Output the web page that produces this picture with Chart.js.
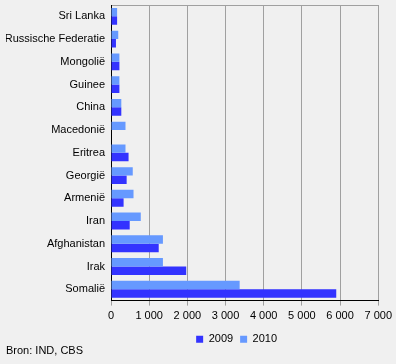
<!DOCTYPE html>
<html>
<head>
<meta charset="utf-8">
<script src="https://cdn.jsdelivr.net/npm/chart.js@4"></script>
<style>
  html, body { margin: 0; padding: 0; background: #f0f0f0; }
  #wrap { width: 396px; height: 364px; position: relative; }
</style>
</head>
<body>
<div id="wrap"><canvas id="chart"></canvas></div>
<script>
const landen = ['Sri Lanka', 'Russische Federatie', 'Mongolië', 'Guinee', 'China', 'Macedonië',
    'Eritrea', 'Georgië', 'Armenië', 'Iran', 'Afghanistan', 'Irak', 'Somalië'];
const jaar2009 = [160, 130, 220, 220, 270, 0, 460, 410, 330, 490, 1250, 1970, 5900];
const jaar2010 = [160, 190, 220, 220, 270, 380, 380, 570, 590, 780, 1360, 1360, 3370];
const xTicks = [0, 1000, 2000, 3000, 4000, 5000, 6000, 7000];

const fmt = v => String(v).replace(/\B(?=(\d{3})+(?!\d))/g, ' ');
const font = { family: 'Liberation Sans, Arial, sans-serif', size: 11 };

Chart.defaults.font = font;
Chart.defaults.color = '#000';

// legend sits a bit left of the plot centre in the original
const legendOverPlot = {
    id: 'legendOverPlot',
    afterLayout(chart) {
        chart.legend.left = chart.chartArea.left - 16;
        chart.legend.right = chart.chartArea.right;
    }
};

new Chart(
    document.getElementById('chart'),
    {
        type: 'bar',
        data: {
            labels: landen,
            datasets: [
                { label: '2010', data: jaar2010, backgroundColor: '#6699ff' },
                { label: '2009', data: jaar2009, backgroundColor: '#3333ff' },
            ]
        },
        options: {
            indexAxis: 'y',
            responsive: true,
            maintainAspectRatio: false,
            animation: false,
            datasets: {
                bar: { categoryPercentage: 0.74, barPercentage: 1.0 }
            },
            layout: { padding: { top: 5, left: 6, right: 10, bottom: 0 } },
            plugins: {
                tooltip: { enabled: false },
                legend: {
                    position: 'bottom',
                    reverse: true,
                    labels: {
                        boxWidth: 7,
                        boxHeight: 7,
                        padding: 7,
                        font: font,
                    }
                },
                title: {
                    display: true,
                    position: 'bottom',
                    align: 'start',
                    text: 'Bron: IND, CBS',
                    font: { ...font, weight: 'normal' },
                    padding: { top: -10, bottom: 6 },
                }
            },
            scales: {
                x: {
                    min: 0,
                    max: 7000,
                    afterBuildTicks: axis => { axis.ticks = xTicks.map(v => ({ value: v })); },
                    grid: { color: '#a0a0a0', tickLength: 5, tickColor: '#a0a0a0' },
                    border: { color: '#000' },
                    ticks: { callback: v => fmt(v), padding: 4, maxRotation: 0 },
                },
                x2: {
                    position: 'top',
                    min: 0,
                    max: 7000,
                    grid: { display: false, drawTicks: false },
                    ticks: { display: false },
                    border: { color: '#a0a0a0' },
                },
                y: {
                    grid: { display: false, drawTicks: false },
                    border: { color: '#000' },
                    ticks: { padding: 6 },
                    afterFit: axis => {
                        axis.width = 105;
                        axis.paddingTop = 0;
                        axis.paddingBottom = 0;
                    },
                }
            }
        },
        plugins: [legendOverPlot]
    }
);
</script>
</body>
</html>
